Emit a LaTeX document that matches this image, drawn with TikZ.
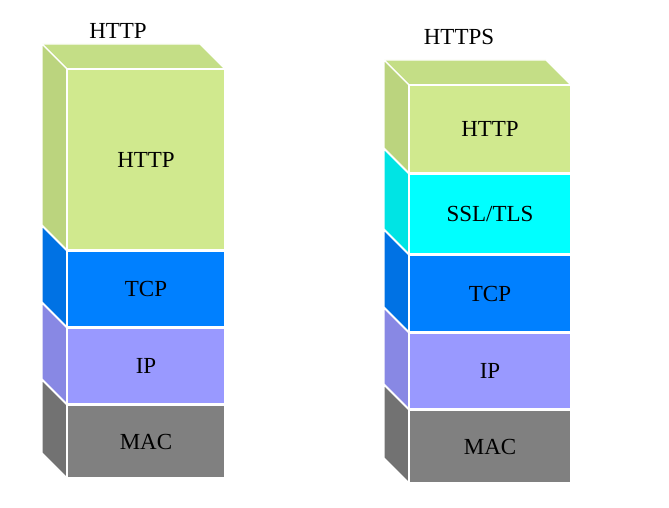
\documentclass[tikz,border=0pt]{standalone}
\usepackage{fontspec}
\setmainfont{Liberation Serif}
\usepackage{xcolor}
\usepackage{tikz}
\definecolor{httpfront}{RGB}{208,233,142}
\definecolor{httptop}{RGB}{196,222,134}
\definecolor{httpside}{RGB}{187,212,126}
\definecolor{sslfront}{RGB}{0,255,255}
\definecolor{sslside}{RGB}{0,228,228}
\definecolor{tcpfront}{RGB}{0,128,255}
\definecolor{tcpside}{RGB}{0,114,228}
\definecolor{ipfront}{RGB}{153,153,255}
\definecolor{ipside}{RGB}{136,136,228}
\definecolor{macfront}{RGB}{128,128,128}
\definecolor{macside}{RGB}{114,114,114}

% name, left x, right x, top y, bottom y, colour prefix, label
\newcommand{\stacklayer}[7]{%
  \filldraw[face, fill=#6side] (#2-25,#4-25) -- (#2,#4) -- (#2,#5) -- (#2-25,#5-25) -- cycle;
  \filldraw[face, fill=#6front] (#2,#4) rectangle (#3,#5);
  \node[lbl] (#1) at ({(#2+#3)/2},{(#4+#5)/2}) {#7};
}
% top face of a stack
\newcommand{\stacktop}[3]{%
  \filldraw[face, fill=httptop] (#1-25,#3-25) -- (#2-25,#3-25) -- (#2,#3) -- (#1,#3) -- cycle;
}

\begin{document}
\begin{tikzpicture}[
  x=0.5pt, y=-0.5pt,
  face/.style={draw=white, line width=0.6pt, line join=miter},
  lbl/.style={font=\fontsize{11.5}{14}\selectfont, text=black},
  title/.style={font=\fontsize{11.5}{14}\selectfont}
]
  \useasboundingbox (0,0) rectangle (669,508);

  % HTTP stack
  \node[title] (httptitle) at (118,31) {HTTP};
  \stacktop{67}{225}{69}
  \stacklayer{lhttp}{67}{225}{69}{250}{http}{HTTP}
  \stacklayer{ltcp}{67}{225}{251}{327}{tcp}{TCP}
  \stacklayer{lip}{67}{225}{328}{404}{ip}{IP}
  \stacklayer{lmac}{67}{225}{405}{478}{mac}{MAC}

  % HTTPS stack
  \node[title] (httpstitle) at (459,37) {HTTPS};
  \stacktop{409}{571}{85}
  \stacklayer{rhttp}{409}{571}{85}{173}{http}{HTTP}
  \stacklayer{rssl}{409}{571}{174}{254}{ssl}{SSL/TLS}
  \stacklayer{rtcp}{409}{571}{255}{332}{tcp}{TCP}
  \stacklayer{rip}{409}{571}{333}{409}{ip}{IP}
  \stacklayer{rmac}{409}{571}{410}{483}{mac}{MAC}
\end{tikzpicture}
\end{document}
